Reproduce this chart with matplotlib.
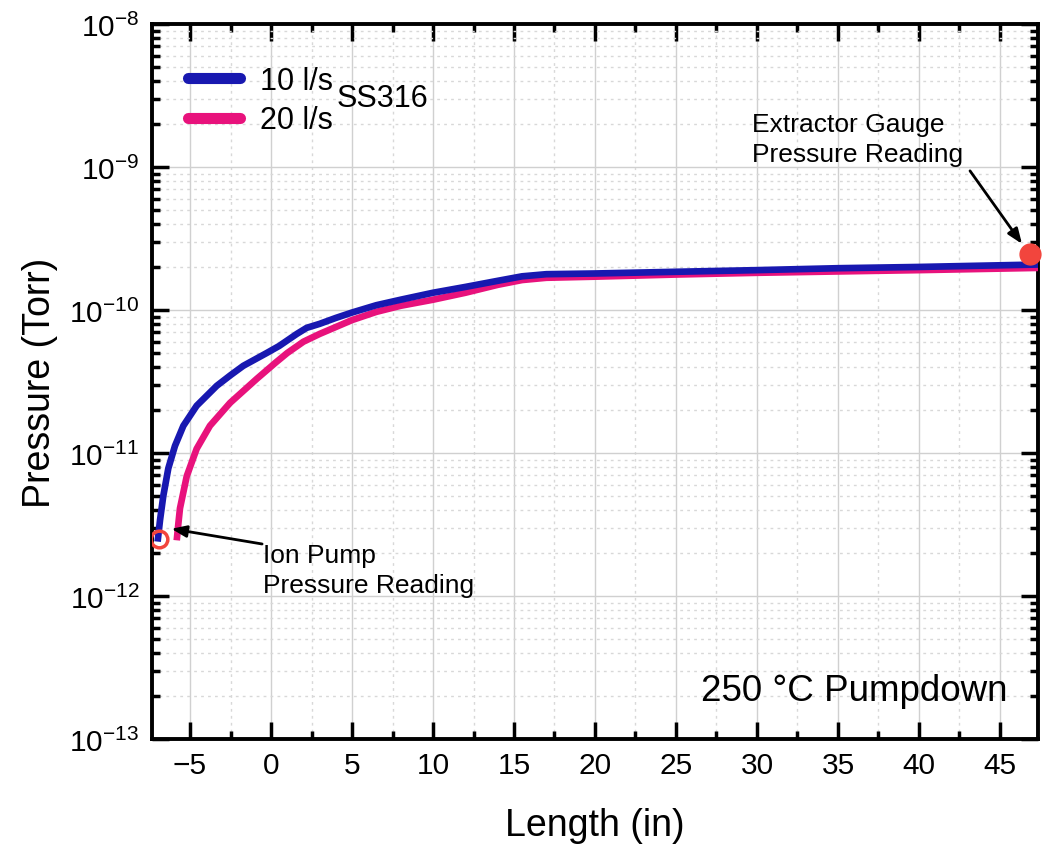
import matplotlib
matplotlib.use("Agg")
import matplotlib.pyplot as plt
from matplotlib.ticker import MultipleLocator, LogLocator, NullFormatter
import numpy as np

plt.rcParams['font.family'] = ['Liberation Sans', 'DejaVu Sans']
plt.rcParams['mathtext.fontset'] = 'custom'
plt.rcParams['mathtext.rm'] = 'Liberation Sans'
plt.rcParams['mathtext.it'] = 'Liberation Sans'

# Data
x_10 = [-7.0, -6.85, -6.65, -6.34, -5.93, -5.41, -4.59, -3.35, -2.5, -1.71, -0.27, 0.5, 1.59, 2.2, 3.0, 4.0, 5.0,
        6.5, 8.0, 10.0, 12.0, 14.0, 15.5, 17.0, 20.0, 25.0, 30.0, 35.0, 40.0, 47.4]
p_10 = [2.4e-12, 3.4e-12, 5.0e-12, 7.8e-12, 1.12e-11, 1.55e-11, 2.14e-11, 2.95e-11, 3.5e-11, 4.07e-11, 5.0e-11,
        5.6e-11, 6.8e-11, 7.5e-11, 8.0e-11, 8.8e-11, 9.6e-11, 1.08e-10, 1.18e-10, 1.32e-10, 1.45e-10, 1.6e-10,
        1.72e-10, 1.78e-10, 1.8e-10, 1.85e-10, 1.9e-10, 1.96e-10, 2.0e-10, 2.08e-10]

x_20 = [-5.82, -5.72, -5.62, -5.2, -4.59, -3.77, -2.53, -0.88, 0.3, 1.0, 2.0, 3.0, 4.0, 5.0, 6.5, 8.0, 10.0,
        12.0, 14.0, 15.5, 17.0, 20.0, 25.0, 30.0, 35.0, 40.0, 47.4]
p_20 = [2.45e-12, 3.2e-12, 4.1e-12, 6.9e-12, 1.07e-11, 1.55e-11, 2.24e-11, 3.3e-11, 4.3e-11, 5.0e-11, 6.0e-11,
        6.8e-11, 7.6e-11, 8.5e-11, 9.7e-11, 1.07e-10, 1.18e-10, 1.32e-10, 1.5e-10, 1.62e-10, 1.68e-10, 1.71e-10,
        1.77e-10, 1.82e-10, 1.86e-10, 1.9e-10, 1.97e-10]

ion_pump = (-6.9, 2.5e-12)
extractor = (46.85, 2.45e-10)

series_labels = ["10 l/s", "20 l/s"]
xticks = [-5, 0, 5, 10, 15, 20, 25, 30, 35, 40, 45]

blue = '#1818B0'
pink = '#E8127C'
red = '#F2453D'

fig = plt.figure(figsize=(10.53, 8.45), dpi=100)
ax = fig.add_axes([0.1443, 0.1243, 0.8415, 0.8461])

ax.plot(x_10, p_10, color=blue, lw=4.8, label=series_labels[0], solid_capstyle='butt',
        solid_joinstyle='round', zorder=4)
ax.plot(x_20, p_20, color=pink, lw=4.8, label=series_labels[1], solid_capstyle='butt',
        solid_joinstyle='round', zorder=3)

ax.plot(*ion_pump, 'o', ms=12, mfc='none', mec=red, mew=2.5, zorder=5)
ax.plot(*extractor, 'o', ms=15, color=red, zorder=5, clip_on=False)

ax.set_yscale('log')
ax.set_xlim(-7.35, 47.35)
ax.set_ylim(1e-13, 1e-8)
ax.set_xticks(xticks)
ax.xaxis.set_minor_locator(MultipleLocator(2.5))
ax.yaxis.set_major_locator(LogLocator(base=10, numticks=20))
ax.yaxis.set_minor_locator(LogLocator(base=10, subs=np.arange(2, 10), numticks=20))
ax.yaxis.set_minor_formatter(NullFormatter())

ax.grid(which='major', color='#d0d0d0', lw=1.0, ls='-')
ax.grid(which='minor', color='#d8d8d8', lw=1.0, ls=(0, (2, 3)))
ax.set_axisbelow(True)

ax.tick_params(which='both', direction='in', top=True, right=True, width=2.5, labelsize=21.5, pad=9)
ax.tick_params(which='major', length=12)
ax.tick_params(which='minor', length=6)
for s in ax.spines.values():
    s.set_linewidth(2.8)

ax.set_xlabel('Length (in)', fontsize=27, labelpad=20)
ax.set_ylabel('Pressure (Torr)', fontsize=27, labelpad=8)

leg = ax.legend(loc='upper left', bbox_to_anchor=(0.0406, 0.941), frameon=False, fontsize=22,
                handlelength=1.7, handletextpad=0.65, labelspacing=0.3, borderaxespad=0, borderpad=0)
for h in leg.get_lines():
    h.set_linewidth(8)
    h.set_solid_capstyle('round')
ax.text(0.2088, 0.8965, 'SS316', transform=ax.transAxes, fontsize=22, va='center', ha='left')

ax.text(0.966, 0.0671, '250 °C Pumpdown', transform=ax.transAxes, fontsize=26.5, ha='right', va='center')

arrow = dict(arrowstyle='-|>,head_length=0.9,head_width=0.35', color='black', lw=2, shrinkA=0, shrinkB=0)

ax.text(0.677, 0.839, 'Extractor Gauge\nPressure Reading', transform=ax.transAxes,
        fontsize=19, ha='left', va='center', linespacing=1.35)
ax.annotate('', xy=(46.36, 2.9e-10), xytext=(43.15, 9.4e-10), arrowprops=arrow)

ax.text(0.1253, 0.2364, 'Ion Pump\nPressure Reading', transform=ax.transAxes,
        fontsize=19, ha='left', va='center', linespacing=1.35)
ax.annotate('', xy=(-6.15, 2.95e-12), xytext=(-0.55, 2.31e-12), arrowprops=arrow)

fig.savefig('out.png', dpi=100)
